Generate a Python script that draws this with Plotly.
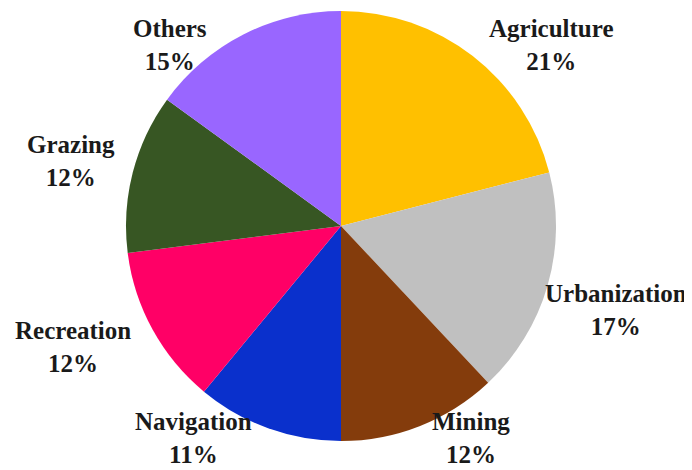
import plotly.graph_objects as go

categories = ["Agriculture", "Urbanization", "Mining", "Navigation", "Recreation", "Grazing", "Others"]
shares = [21, 17, 12, 11, 12, 12, 15]
colors = ["#FFC000", "#C0C0C0", "#843C0C", "#0A30CC", "#FF0066", "#375623", "#9966FF"]

# label anchor positions in window pixels
label_px = [(551, 45), (616, 310), (471, 438), (193, 438), (73, 347), (71, 161), (170, 45)]

OFF = 8  # page body margin
W, H = 692 - OFF, 470 - OFF


def px_x(x):
    return (x - OFF) / W


def px_y(y):
    return 1 - (y - OFF) / H


fig = go.Figure(go.Pie(
    labels=categories,
    values=shares,
    sort=False,
    direction="clockwise",
    rotation=0,
    marker=dict(colors=colors, line=dict(width=0)),
    textinfo="none",
    hoverinfo="label+percent",
    domain=dict(x=[px_x(126), px_x(556)], y=[px_y(441), px_y(11)]),
    showlegend=False,
))

total = sum(shares)
for name, val, (px, py) in zip(categories, shares, label_px):
    fig.add_annotation(
        x=px_x(px), y=px_y(py), xref="paper", yref="paper",
        text=f"<b>{name}<br>{round(val / total * 100)}%</b>",
        showarrow=False, xanchor="center", yanchor="middle",
        font=dict(family="Liberation Serif", size=25, color="#1a1a1a"),
    )

fig.update_layout(
    width=W, height=H,
    margin=dict(l=0, r=0, t=0, b=0),
    paper_bgcolor="white",
    plot_bgcolor="white",
)

fig.write_html("out.html")
